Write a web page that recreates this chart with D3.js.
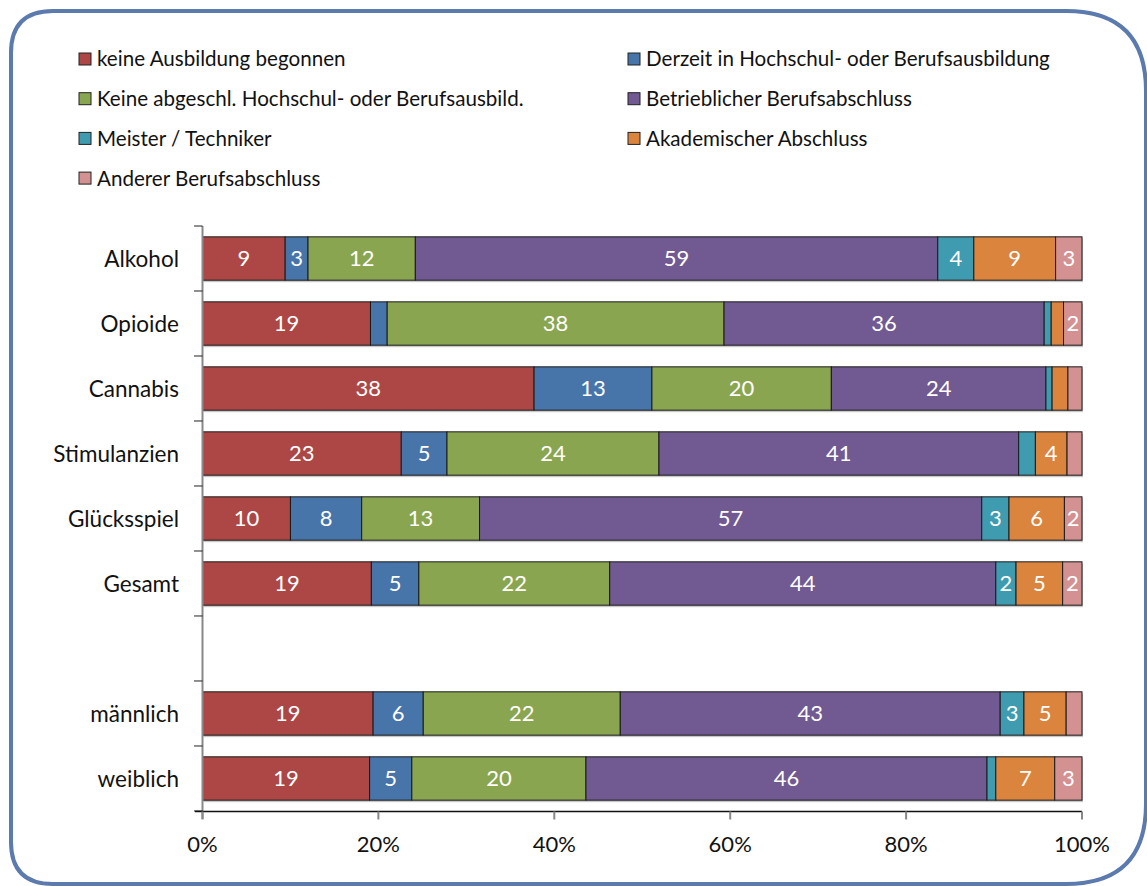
<!DOCTYPE html>
<html>
<head>
<meta charset="utf-8">
<script src="https://cdn.jsdelivr.net/npm/d3@7.9.0/dist/d3.min.js"></script>
<style>
  html, body { margin: 0; padding: 0; background: #fff; }
  svg { display: block; font-family: Lato, "Open Sans", sans-serif; }
</style>
</head>
<body>
<svg id="chart" width="1147" height="886"></svg>
<script>
// categories (blank entry = gap row)
const categories = ['Alkohol', 'Opioide', 'Cannabis', 'Stimulanzien', 'Glücksspiel', 'Gesamt', ' ', 'männlich', 'weiblich'];

const seriesNames = [
  'keine Ausbildung begonnen',
  'Derzeit in Hochschul- oder Berufsausbildung',
  'Keine abgeschl. Hochschul- oder Berufsausbild.',
  'Betrieblicher Berufsabschluss',
  'Meister / Techniker',
  'Akademischer Abschluss',
  'Anderer Berufsabschluss'
];
const seriesColors = ['#ad4745', '#4774a9', '#8aa550', '#715991', '#3f9bb0', '#db843e', '#d39192'];

// percentages per series, in category order (gap row = null)
const keineAusbildung = [9.4, 19.1, 37.7, 22.6, 10.0, 19.2, null, 19.4, 19.0];
const derzeitInAusbildung = [2.6, 1.9, 13.4, 5.2, 8.1, 5.4, null, 5.7, 4.8];
const keineAbgeschl = [12.2, 38.3, 20.4, 24.1, 13.4, 21.7, null, 22.4, 19.8];
const betrieblich = [59.4, 36.4, 24.4, 40.9, 57.1, 43.9, null, 43.2, 45.6];
const meisterTechniker = [4.1, 0.8, 0.7, 1.9, 3.1, 2.3, null, 2.7, 1.0];
const akademisch = [9.3, 1.4, 1.8, 3.6, 6.3, 5.3, null, 4.8, 6.7];
const andererAbschluss = [3.0, 2.1, 1.6, 1.7, 2.0, 2.2, null, 1.8, 3.1];

const seriesValues = [keineAusbildung, derzeitInAusbildung, keineAbgeschl, betrieblich, meisterTechniker, akademisch, andererAbschluss];

const xTicks = [0, 20, 40, 60, 80, 100];

const svg = d3.select('#chart');

// frame with rounded corners
const fx0 = 11, fy0 = 11, fx1 = 1146, fy1 = 884, rl = 42, rr = 80;
svg.append('path')
  .attr('d', `M${fx0 + rl},${fy0} L${fx1 - rr},${fy0} Q${fx1},${fy0} ${fx1},${fy0 + rr} L${fx1},${fy1 - rr} Q${fx1},${fy1} ${fx1 - rr},${fy1} L${fx0 + rl},${fy1} Q${fx0},${fy1} ${fx0},${fy1 - rl} L${fx0},${fy0 + rl} Q${fx0},${fy0} ${fx0 + rl},${fy0} Z`)
  .attr('fill', '#fff')
  .attr('stroke', '#5b7aad')
  .attr('stroke-width', 4);

const xScale = d3.scaleLinear().domain([0, 100]).range([202.5, 1082]);
const yScale = d3.scaleBand().domain(categories).range([226, 811]).paddingInner(0.333).paddingOuter(0.1667);

// build stacked rows
const rows = categories.map((c, i) => {
  let acc = 0;
  const segs = [];
  seriesValues.forEach((vals, s) => {
    const v = vals[i];
    if (v == null) return;
    segs.push({ cat: c, s, v, x0: acc, x1: acc + v });
    acc += v;
  });
  return segs;
}).flat();

// bar shadows
svg.append('g')
  .selectAll('rect')
  .data(categories.filter((c, i) => keineAusbildung[i] != null))
  .join('rect')
  .attr('x', xScale(0) + 1)
  .attr('y', (d) => yScale(d) + 2)
  .attr('width', xScale(100) - xScale(0))
  .attr('height', yScale.bandwidth())
  .attr('fill', '#c8c8c8');

const bars = svg.append('g');
bars.selectAll('rect')
  .data(rows)
  .join('rect')
  .attr('x', (d) => xScale(d.x0))
  .attr('y', (d) => yScale(d.cat))
  .attr('width', (d) => xScale(d.x1) - xScale(d.x0))
  .attr('height', yScale.bandwidth())
  .attr('fill', (d) => seriesColors[d.s])
  .attr('stroke', '#1a1a1a')
  .attr('stroke-width', 1);

// value labels
bars.selectAll('text')
  .data(rows.filter((d) => d.v >= 2))
  .join('text')
  .attr('x', (d) => xScale((d.x0 + d.x1) / 2))
  .attr('y', (d) => yScale(d.cat) + yScale.bandwidth() / 2)
  .attr('dy', '0.36em')
  .attr('text-anchor', 'middle')
  .attr('fill', '#fff')
  .attr('font-size', 22)
  .text((d) => Math.round(d.v));

// y axis (gray line + black ticks at band edges)
const yEdges = d3.range(categories.length + 1).map((k) => 226 + k * yScale.step());
svg.append('line')
  .attr('x1', xScale(0)).attr('x2', xScale(0))
  .attr('y1', 226).attr('y2', 819)
  .attr('stroke', '#888').attr('stroke-width', 2);
svg.append('g')
  .selectAll('line')
  .data(yEdges)
  .join('line')
  .attr('x1', 194).attr('x2', xScale(0))
  .attr('y1', (d) => d).attr('y2', (d) => d)
  .attr('stroke', '#222').attr('stroke-width', 1);

svg.append('g')
  .selectAll('text')
  .data(categories)
  .join('text')
  .attr('x', 179)
  .attr('y', (d) => yScale(d) + yScale.bandwidth() / 2)
  .attr('dy', '0.36em')
  .attr('text-anchor', 'end')
  .attr('fill', '#111')
  .attr('font-size', 22.5)
  .text((d) => d.trim());

// x axis
const xAxis = svg.append('g').attr('transform', 'translate(0,811.5)');
xAxis.append('line')
  .attr('x1', 195).attr('x2', xScale(100))
  .attr('stroke', '#111').attr('stroke-width', 1.5);
xAxis.selectAll('line.tick')
  .data(xTicks)
  .join('line')
  .attr('class', 'tick')
  .attr('x1', (d) => xScale(d)).attr('x2', (d) => xScale(d))
  .attr('y1', 0).attr('y2', 8)
  .attr('stroke', '#888').attr('stroke-width', 2);
xAxis.selectAll('text')
  .data(xTicks)
  .join('text')
  .attr('x', (d) => xScale(d))
  .attr('y', 40)
  .attr('text-anchor', 'middle')
  .attr('fill', '#111')
  .attr('font-size', 22)
  .text((d) => d + '%');

// legend: two columns, filled row by row
const legend = svg.append('g');
const legendItems = legend.selectAll('g')
  .data(seriesNames)
  .join('g')
  .attr('transform', (d, i) => `translate(${i % 2 === 0 ? 79 : 628},${59 + Math.floor(i / 2) * 39.7})`);
legendItems.append('rect')
  .attr('x', 0).attr('y', -6)
  .attr('width', 12).attr('height', 12)
  .attr('fill', (d, i) => seriesColors[i])
  .attr('stroke', '#222').attr('stroke-width', 1);
legendItems.append('text')
  .attr('x', 18)
  .attr('dy', '0.36em')
  .attr('fill', '#111')
  .attr('font-size', 20.6)
  .text((d) => d);
</script>
</body>
</html>
